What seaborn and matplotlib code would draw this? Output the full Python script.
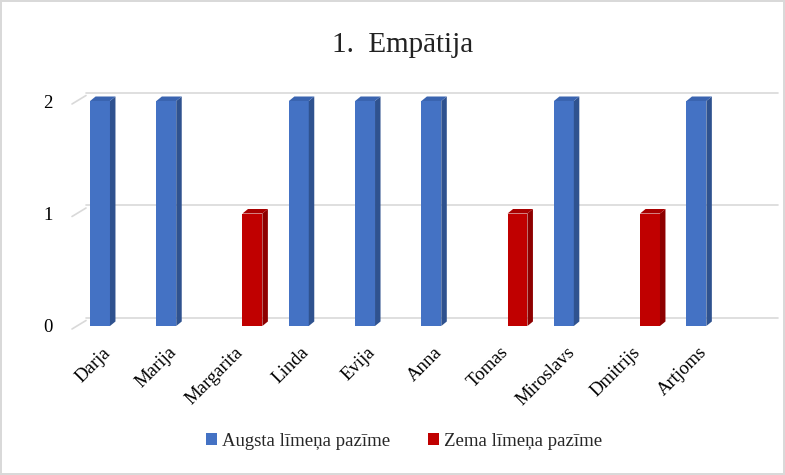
import pandas as pd
import seaborn as sns
import matplotlib.pyplot as plt
from matplotlib.patches import Polygon, Patch
from matplotlib.transforms import ScaledTranslation

names = ["Darja", "Marija", "Margarita", "Linda", "Evija", "Anna",
         "Tomas", "Miroslavs", "Dmitrijs", "Artjoms"]
scores = [2, 2, 1, 2, 2, 2, 1, 2, 1, 2]
levels = ["Augsta līmeņa pazīme" if s == 2 else "Zema līmeņa pazīme" for s in scores]
level_order = ["Augsta līmeņa pazīme", "Zema līmeņa pazīme"]

front = {"Augsta līmeņa pazīme": "#4472C4", "Zema līmeņa pazīme": "#C00000"}
side = {"#4472C4": "#2F528F", "#C00000": "#8E0000"}
top = {"#4472C4": "#3A64B0", "#C00000": "#A80000"}

df = pd.DataFrame({"name": names, "score": scores, "level": levels})

sns.set_theme(style="white")
plt.rcParams["font.family"] = ["Liberation Serif", "DejaVu Serif"]

fig = plt.figure(figsize=(7.85, 4.75), dpi=100)
W, H = 785, 475
ax = fig.add_axes([72 / W, 1 - 326 / H, (764 - 72) / W, (326 - 101) / H])

sns.barplot(data=df, x="name", y="score", hue="level", hue_order=level_order,
            palette=front, dodge=True, width=0.6, legend=False,
            saturation=1, ax=ax)
xlo, xhi = -0.573, 9.87
ax.set_xlim(xlo, xhi)
ax.set_ylim(0, 2)
ax.set_yticks([0, 1, 2])

# pixel scale of the data space
px_x = 692 / (xhi - xlo)
px_y = 225 / 2

# 3D bar depth
ddx, ddy = 5.5 / px_x, 4.5 / px_y
for p in list(ax.patches):
    if p.get_height() <= 0:
        continue
    c = p.get_facecolor()
    hexc = "#%02X%02X%02X" % tuple(int(round(v * 255)) for v in c[:3])
    x0, w, h = p.get_x(), p.get_width(), p.get_height()
    ax.add_patch(Polygon([(x0 + w, 0), (x0 + w + ddx, ddy), (x0 + w + ddx, h + ddy), (x0 + w, h)],
                         closed=True, facecolor=side.get(hexc, hexc), edgecolor="none",
                         clip_on=False, zorder=3))
    ax.add_patch(Polygon([(x0, h), (x0 + ddx, h + ddy), (x0 + w + ddx, h + ddy), (x0 + w, h)],
                         closed=True, facecolor=top.get(hexc, hexc), edgecolor="none",
                         clip_on=False, zorder=3))
    p.set_zorder(3)
    p.set_edgecolor("none")

# back-wall gridlines with perspective offset
gdx, gdy = 14, 8.5
back = ax.get_yaxis_transform() + ScaledTranslation(gdx / 100, gdy / 100, fig.dpi_scale_trans)
for v in [0, 1, 2]:
    ax.plot([0, 1], [v, v], transform=back, color="#D9D9D9", lw=1.2,
            clip_on=False, zorder=1)
    ax.plot([0, gdx / 692], [v - 3 / px_y, v + (gdy - 3) / px_y],
            transform=ax.get_yaxis_transform(),
            color="#D9D9D9", lw=1.2, clip_on=False, zorder=1)

for s in ax.spines.values():
    s.set_visible(False)
ax.grid(False)
ax.set_xlabel("")
ax.set_ylabel("")
ax.tick_params(axis="y", length=0, pad=14, labelsize=13.5, labelcolor="black")
ax.tick_params(axis="x", length=0, pad=0, labelsize=13.5, labelcolor="black")
ax.set_xticks(range(len(names)))
ax.set_xticklabels(names)
shift = ScaledTranslation(-8 / 100, -18 / 100, fig.dpi_scale_trans)
for lab in ax.get_xticklabels():
    lab.set_rotation(45)
    lab.set_rotation_mode("anchor")
    lab.set_ha("right")
    lab.set_va("top")
    lab.set_transform(lab.get_transform() + shift)

fig.text(403 / W, 1 - 45 / H, "1.  Empātija", ha="center", va="center",
         fontsize=21, color="#222222")

handles = [Patch(facecolor=front[l], edgecolor="none") for l in level_order]
fig.legend(handles, level_order, loc="center", bbox_to_anchor=(404 / W, 1 - 441 / H),
           ncol=2, frameon=False, fontsize=13.5, handlelength=0.6, handleheight=0.6,
           handletextpad=0.25, columnspacing=2.0)

fig.patch.set_edgecolor("#D9D9D9")
fig.patch.set_linewidth(1.5)
fig.savefig("out.png", dpi=100)
